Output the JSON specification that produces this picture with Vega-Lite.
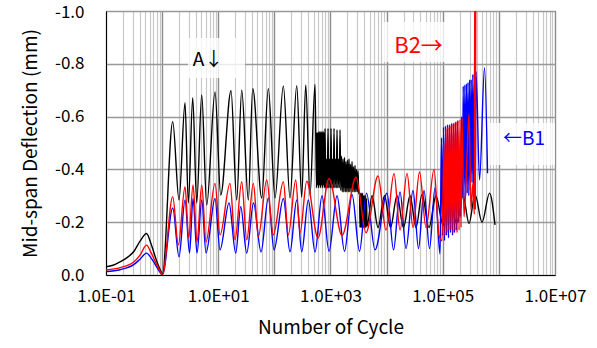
{
  "$schema": "https://vega.github.io/schema/vega-lite/v6.json",
  "width": 449,
  "height": 264,
  "autosize": {"type": "none"},
  "padding": {"left": 106, "top": 11, "right": 42, "bottom": 73},
  "background": "white",
  "config": {
    "view": {"stroke": "black", "strokeWidth": 1},
    "axis": {"domainColor": "black", "labelColor": "black", "titleColor": "black", "labelFont": "Noto Sans CJK JP", "titleFont": "Noto Sans CJK JP", "titleFontWeight": "normal"}
  },
  "datasets": {
    "lines": [
      {"s":"A","x":0.1,"y":-0.031},{"s":"A","x":0.1334,"y":-0.037},{"s":"A","x":0.1778,"y":-0.05},{"s":"A","x":0.2369,"y":-0.066},{"s":"A","x":0.3157,"y":-0.09},{"s":"A","x":0.4039,"y":-0.128},{"s":"A","x":0.5274,"y":-0.157},{"s":"A","x":0.6342,"y":-0.118},{"s":"A","x":0.7786,"y":-0.06},{"s":"A","x":0.9175,"y":-0.022},{"s":"A","x":1.017,"y":-0.005},
      {"s":"A","x":1.545,"y":-0.581},{"s":"A","x":2.0,"y":-0.284},{"s":"A","x":2.559,"y":-0.653},{"s":"A","x":2.93,"y":-0.273},{"s":"A","x":3.51,"y":-0.672},{"s":"A","x":4.136,"y":-0.273},{"s":"A","x":5.077,"y":-0.682},{"s":"A","x":6.232,"y":-0.265},{"s":"A","x":8.761,"y":-0.693},{"s":"A","x":11.07,"y":-0.303},{"s":"A","x":16.89,"y":-0.698},{"s":"A","x":21.34,"y":-0.284},{"s":"A","x":26.2,"y":-0.7},{"s":"A","x":34.36,"y":-0.284},{"s":"A","x":41.15,"y":-0.706},{"s":"A","x":59.52,"y":-0.292},{"s":"A","x":78.03,"y":-0.706},{"s":"A","x":102.7,"y":-0.292},{"s":"A","x":144.4,"y":-0.716},{"s":"A","x":190.0,"y":-0.292},{"s":"A","x":250.2,"y":-0.717},{"s":"A","x":307.1,"y":-0.295},{"s":"A","x":362.0,"y":-0.72},{"s":"A","x":431.7,"y":-0.303},{"s":"A","x":530.2,"y":-0.723},
      {"s":"A","x":563.6,"y":-0.33},{"s":"A","x":575.3,"y":-0.54},{"s":"A","x":587.2,"y":-0.34},{"s":"A","x":599.4,"y":-0.54},{"s":"A","x":611.8,"y":-0.33},{"s":"A","x":624.5,"y":-0.545},{"s":"A","x":637.4,"y":-0.34},{"s":"A","x":650.6,"y":-0.54},{"s":"A","x":664.1,"y":-0.33},{"s":"A","x":677.9,"y":-0.545},{"s":"A","x":691.9,"y":-0.34},{"s":"A","x":706.3,"y":-0.54},{"s":"A","x":720.9,"y":-0.33},{"s":"A","x":735.9,"y":-0.545},{"s":"A","x":751.1,"y":-0.34},{"s":"A","x":766.7,"y":-0.54},{"s":"A","x":782.6,"y":-0.33},
      {"s":"A","x":798.9,"y":-0.555},{"s":"A","x":823.9,"y":-0.33},{"s":"A","x":849.7,"y":-0.44},{"s":"A","x":876.3,"y":-0.33},{"s":"A","x":903.5,"y":-0.555},{"s":"A","x":931.8,"y":-0.33},{"s":"A","x":961.0,"y":-0.44},{"s":"A","x":991.0,"y":-0.33},{"s":"A","x":1022,"y":-0.555},{"s":"A","x":1054,"y":-0.33},{"s":"A","x":1087,"y":-0.44},{"s":"A","x":1121,"y":-0.33},{"s":"A","x":1156,"y":-0.555},{"s":"A","x":1192,"y":-0.33},{"s":"A","x":1229,"y":-0.44},{"s":"A","x":1268,"y":-0.33},{"s":"A","x":1307,"y":-0.55},{"s":"A","x":1348,"y":-0.33},{"s":"A","x":1390,"y":-0.44},{"s":"A","x":1434,"y":-0.33},{"s":"A","x":1478,"y":-0.55},{"s":"A","x":1525,"y":-0.32},
      {"s":"A","x":1572,"y":-0.45},{"s":"A","x":1621,"y":-0.315},{"s":"A","x":1672,"y":-0.44},{"s":"A","x":1724,"y":-0.315},{"s":"A","x":1778,"y":-0.445},{"s":"A","x":1834,"y":-0.315},{"s":"A","x":1891,"y":-0.43},{"s":"A","x":1950,"y":-0.315},{"s":"A","x":2011,"y":-0.435},{"s":"A","x":2074,"y":-0.315},{"s":"A","x":2139,"y":-0.44},{"s":"A","x":2205,"y":-0.315},{"s":"A","x":2274,"y":-0.42},{"s":"A","x":2345,"y":-0.315},{"s":"A","x":2419,"y":-0.43},{"s":"A","x":2494,"y":-0.315},{"s":"A","x":2572,"y":-0.41},{"s":"A","x":2652,"y":-0.315},{"s":"A","x":2735,"y":-0.415},{"s":"A","x":2821,"y":-0.315},{"s":"A","x":2909,"y":-0.4},{"s":"A","x":3000,"y":-0.315},{"s":"A","x":3094,"y":-0.395},{"s":"A","x":3190,"y":-0.31},
      {"s":"A","x":3290,"y":-0.305},{"s":"A","x":3358,"y":-0.18},{"s":"A","x":3428,"y":-0.31},{"s":"A","x":3499,"y":-0.18},{"s":"A","x":3572,"y":-0.31},{"s":"A","x":3646,"y":-0.18},{"s":"A","x":3721,"y":-0.31},{"s":"A","x":3798,"y":-0.18},{"s":"A","x":3877,"y":-0.3},{"s":"A","x":3958,"y":-0.18},{"s":"A","x":4040,"y":-0.3},{"s":"A","x":4124,"y":-0.18},{"s":"A","x":4209,"y":-0.3},{"s":"A","x":4297,"y":-0.18},{"s":"A","x":4386,"y":-0.29},{"s":"A","x":4477,"y":-0.185},
      {"s":"A","x":5494,"y":-0.3},{"s":"A","x":7027,"y":-0.18},{"s":"A","x":9176,"y":-0.3},{"s":"A","x":11736,"y":-0.18},{"s":"A","x":15322,"y":-0.3},{"s":"A","x":20000,"y":-0.18},{"s":"A","x":26117,"y":-0.3},{"s":"A","x":33405,"y":-0.18},{"s":"A","x":42726,"y":-0.305},{"s":"A","x":56940,"y":-0.18},{"s":"A","x":75900,"y":-0.3},{"s":"A","x":101130,"y":-0.19},{"s":"A","x":134770,"y":-0.295},{"s":"A","x":176000,"y":-0.195},{"s":"A","x":229770,"y":-0.3},{"s":"A","x":293900,"y":-0.195},{"s":"A","x":375900,"y":-0.305},{"s":"A","x":501000,"y":-0.2},{"s":"A","x":681600,"y":-0.31},{"s":"A","x":854000,"y":-0.19},

      {"s":"B2","x":0.1,"y":-0.019},{"s":"B2","x":0.1778,"y":-0.028},{"s":"B2","x":0.3157,"y":-0.05},{"s":"B2","x":0.4039,"y":-0.075},{"s":"B2","x":0.5274,"y":-0.113},{"s":"B2","x":0.6342,"y":-0.085},{"s":"B2","x":0.7786,"y":-0.045},{"s":"B2","x":0.9175,"y":-0.015},{"s":"B2","x":1.017,"y":-0.002},
      {"s":"B2","x":1.545,"y":-0.297},{"s":"B2","x":1.944,"y":-0.114},{"s":"B2","x":2.559,"y":-0.334},{"s":"B2","x":2.978,"y":-0.14},{"s":"B2","x":3.553,"y":-0.341},{"s":"B2","x":4.186,"y":-0.125},{"s":"B2","x":5.077,"y":-0.341},{"s":"B2","x":6.056,"y":-0.125},{"s":"B2","x":8.761,"y":-0.347},{"s":"B2","x":10.75,"y":-0.152},{"s":"B2","x":16.21,"y":-0.347},{"s":"B2","x":19.9,"y":-0.133},{"s":"B2","x":26.2,"y":-0.353},{"s":"B2","x":32.17,"y":-0.133},{"s":"B2","x":42.17,"y":-0.347},{"s":"B2","x":51.76,"y":-0.145},{"s":"B2","x":73.06,"y":-0.36},{"s":"B2","x":95.79,"y":-0.152},{"s":"B2","x":144.4,"y":-0.353},{"s":"B2","x":177.3,"y":-0.152},{"s":"B2","x":240.1,"y":-0.36},{"s":"B2","x":286.4,"y":-0.159},{"s":"B2","x":377.0,"y":-0.355},{"s":"B2","x":599.3,"y":-0.14},{"s":"B2","x":941.3,"y":-0.365},{"s":"B2","x":1604,"y":-0.15},{"s":"B2","x":2850,"y":-0.37},{"s":"B2","x":4295,"y":-0.16},{"s":"B2","x":7027,"y":-0.375},{"s":"B2","x":9757,"y":-0.17},{"s":"B2","x":13549,"y":-0.385},{"s":"B2","x":17331,"y":-0.17},{"s":"B2","x":23094,"y":-0.385},{"s":"B2","x":29540,"y":-0.18},{"s":"B2","x":38566,"y":-0.39},{"s":"B2","x":50350,"y":-0.18},{"s":"B2","x":69920,"y":-0.4},{"s":"B2","x":85840,"y":-0.15},
      {"s":"B2","x":97095,"y":-0.13},{"s":"B2","x":105370,"y":-0.5},{"s":"B2","x":109780,"y":-0.15},{"s":"B2","x":114380,"y":-0.555},{"s":"B2","x":119180,"y":-0.16},{"s":"B2","x":124170,"y":-0.56},{"s":"B2","x":129380,"y":-0.17},{"s":"B2","x":134770,"y":-0.565},{"s":"B2","x":140420,"y":-0.17},{"s":"B2","x":146300,"y":-0.57},{"s":"B2","x":152430,"y":-0.16},{"s":"B2","x":158820,"y":-0.575},{"s":"B2","x":165480,"y":-0.17},{"s":"B2","x":172410,"y":-0.58},{"s":"B2","x":179640,"y":-0.16},{"s":"B2","x":187170,"y":-0.585},{"s":"B2","x":195010,"y":-0.17},{"s":"B2","x":203180,"y":-0.59},{"s":"B2","x":211700,"y":-0.18},{"s":"B2","x":220570,"y":-0.595},
      {"s":"B2","x":239380,"y":-0.22},{"s":"B2","x":270770,"y":-0.45},{"s":"B2","x":293900,"y":-0.61},{"s":"B2","x":319000,"y":-0.25},{"s":"B2","x":346350,"y":-0.35},{"s":"B2","x":365280,"y":-0.23},{"s":"B2","x":372800,"y":-1.2},{"s":"B2","x":380500,"y":-0.25},{"s":"B2","x":388400,"y":-1.2},

      {"s":"B1","x":0.1,"y":-0.013},{"s":"B1","x":0.1778,"y":-0.02},{"s":"B1","x":0.3157,"y":-0.04},{"s":"B1","x":0.4039,"y":-0.06},{"s":"B1","x":0.5274,"y":-0.083},{"s":"B1","x":0.6342,"y":-0.065},{"s":"B1","x":0.7786,"y":-0.035},{"s":"B1","x":0.9175,"y":-0.01},{"s":"B1","x":1.017,"y":-0.002},
      {"s":"B1","x":1.545,"y":-0.254},{"s":"B1","x":2.0,"y":-0.069},{"s":"B1","x":2.559,"y":-0.284},{"s":"B1","x":3.078,"y":-0.083},{"s":"B1","x":3.553,"y":-0.29},{"s":"B1","x":4.186,"y":-0.083},{"s":"B1","x":5.077,"y":-0.284},{"s":"B1","x":6.056,"y":-0.084},{"s":"B1","x":8.761,"y":-0.29},{"s":"B1","x":10.75,"y":-0.095},{"s":"B1","x":15.56,"y":-0.273},{"s":"B1","x":20.48,"y":-0.083},{"s":"B1","x":25.15,"y":-0.259},{"s":"B1","x":32.17,"y":-0.083},{"s":"B1","x":42.51,"y":-0.273},{"s":"B1","x":57.82,"y":-0.088},{"s":"B1","x":78.03,"y":-0.292},{"s":"B1","x":98.58,"y":-0.095},{"s":"B1","x":144.4,"y":-0.29},{"s":"B1","x":190.0,"y":-0.088},{"s":"B1","x":250.2,"y":-0.284},{"s":"B1","x":307.1,"y":-0.088},{"s":"B1","x":402.6,"y":-0.284},{"s":"B1","x":530.2,"y":-0.087},{"s":"B1","x":706.3,"y":-0.3},{"s":"B1","x":941.3,"y":-0.09},{"s":"B1","x":1307,"y":-0.3},{"s":"B1","x":1778,"y":-0.09},{"s":"B1","x":2419,"y":-0.305},{"s":"B1","x":3290,"y":-0.09},{"s":"B1","x":4386,"y":-0.31},{"s":"B1","x":6213,"y":-0.095},{"s":"B1","x":10165,"y":-0.31},{"s":"B1","x":13274,"y":-0.095},{"s":"B1","x":17331,"y":-0.315},{"s":"B1","x":22166,"y":-0.1},{"s":"B1","x":29540,"y":-0.32},{"s":"B1","x":37016,"y":-0.1},{"s":"B1","x":46390,"y":-0.32},{"s":"B1","x":58130,"y":-0.1},{"s":"B1","x":72840,"y":-0.33},{"s":"B1","x":89430,"y":-0.08},
      {"s":"B1","x":95120,"y":-0.52},{"s":"B1","x":99105,"y":-0.15},{"s":"B1","x":103260,"y":-0.56},{"s":"B1","x":107580,"y":-0.13},{"s":"B1","x":112090,"y":-0.565},{"s":"B1","x":116790,"y":-0.15},{"s":"B1","x":121680,"y":-0.57},{"s":"B1","x":126780,"y":-0.14},{"s":"B1","x":132090,"y":-0.57},{"s":"B1","x":137630,"y":-0.16},{"s":"B1","x":143390,"y":-0.575},{"s":"B1","x":149400,"y":-0.15},{"s":"B1","x":155660,"y":-0.575},{"s":"B1","x":162180,"y":-0.16},{"s":"B1","x":168980,"y":-0.58},{"s":"B1","x":176060,"y":-0.17},{"s":"B1","x":183440,"y":-0.585},{"s":"B1","x":191120,"y":-0.2},{"s":"B1","x":199000,"y":-0.45},{"s":"B1","x":207330,"y":-0.22},{"s":"B1","x":216020,"y":-0.6},{"s":"B1","x":225060,"y":-0.3},{"s":"B1","x":231640,"y":-0.715},{"s":"B1","x":239380,"y":-0.29},{"s":"B1","x":247370,"y":-0.72},{"s":"B1","x":255630,"y":-0.3},{"s":"B1","x":264160,"y":-0.725},{"s":"B1","x":272980,"y":-0.31},{"s":"B1","x":282090,"y":-0.73},{"s":"B1","x":291510,"y":-0.3},{"s":"B1","x":301240,"y":-0.74},{"s":"B1","x":311250,"y":-0.32},{"s":"B1","x":321640,"y":-0.74},{"s":"B1","x":332380,"y":-0.35},{"s":"B1","x":343480,"y":-0.76},{"s":"B1","x":354940,"y":-0.3},{"s":"B1","x":366790,"y":-0.765},{"s":"B1","x":379030,"y":-0.32},{"s":"B1","x":391680,"y":-0.77},{"s":"B1","x":452200,"y":-0.36},{"s":"B1","x":555100,"y":-0.785},{"s":"B1","x":627900,"y":-0.385}
    ],
    "notes": [
      {"label":"A↓","x":6.57,"y":-0.814,"bx1":2.894,"bx2":30.0,"by1":-0.898,"by2":-0.746},
      {"label":"B2→","x":37016,"y":-0.867,"bx1":8627,"bx2":187200,"by1":-0.958,"by2":-0.807},
      {"label":"←B1","x":2805000,"y":-0.515,"bx1":695500,"bx2":20950000,"by1":-0.576,"by2":-0.417}
    ]
  },
  "layer": [
    {
      "data": {"name": "notes"},
      "mark": {"type": "rect", "fill": "white", "opacity": 0.8, "clip": true},
      "encoding": {
        "x": {"field": "bx1", "type": "quantitative",
          "scale": {"type": "log", "domain": [0.1, 10000000], "nice": false},
          "axis": {
            "values": [0.1,0.2,0.3,0.4,0.5,0.6,0.7,0.8,0.9,1,2,3,4,5,6,7,8,9,10,20,30,40,50,60,70,80,90,100,200,300,400,500,600,700,800,900,1000,2000,3000,4000,5000,6000,7000,8000,9000,10000,20000,30000,40000,50000,60000,70000,80000,90000,100000,200000,300000,400000,500000,600000,700000,800000,900000,1000000,2000000,3000000,4000000,5000000,6000000,7000000,8000000,9000000,10000000],
            "labelExpr": "abs(log(datum.value)/LN10 - round(log(datum.value)/LN10)) < 0.001 && abs(round(log(datum.value)/LN10)) % 2 == 1 ? '1.0E' + (datum.value < 1 ? '-' : '+') + '0' + abs(round(log(datum.value)/LN10)) : ''",
            "grid": true,
            "gridColor": {"condition": {"test": "abs(log(datum.value)/LN10 - round(log(datum.value)/LN10)) < 0.001", "value": "#8c8c8c"}, "value": "#c8c8c8"},
            "gridWidth": {"condition": {"test": "abs(log(datum.value)/LN10 - round(log(datum.value)/LN10)) < 0.001", "value": 1.4}, "value": 1.2},
            "ticks": false, "tickSize": 0,
            "labelFontSize": 17, "labelPadding": 13, "labelOverlap": false, "labelFlush": false,
            "title": "Number of Cycle", "titleFontSize": 19, "titlePadding": 14
          }
        },
        "x2": {"field": "bx2"},
        "y": {"field": "by1", "type": "quantitative",
          "scale": {"domain": [0, -1], "nice": false, "zero": false},
          "axis": {
            "values": [0, -0.2, -0.4, -0.6, -0.8, -1],
            "labelExpr": "datum.value == 0 ? '0.0' : '-' + format(-datum.value, '.1f')",
            "labelOffset": {"condition": {"test": "datum.value == -1", "value": 1}, "value": 0},
            "grid": true, "gridColor": "#999999", "gridWidth": 1.3,
            "ticks": false, "tickSize": 0,
            "labelFontSize": 17, "labelPadding": 22,
            "title": "Mid-span Deflection (mm)", "titleFontSize": 19, "titlePadding": 14
          }
        },
        "y2": {"field": "by2"}
      }
    },
    {
      "data": {"name": "lines"},
      "transform": [{"filter": "datum.s == 'A'"}],
      "mark": {"type": "line", "color": "#000000", "strokeWidth": 1.4, "interpolate": "monotone", "clip": true},
      "encoding": {
        "x": {"field": "x", "type": "quantitative"},
        "y": {"field": "y", "type": "quantitative"}
      }
    },
    {
      "data": {"name": "lines"},
      "transform": [{"filter": "datum.s == 'B1'"}],
      "mark": {"type": "line", "color": "#0000ff", "strokeWidth": 1.4, "interpolate": "monotone", "clip": true},
      "encoding": {
        "x": {"field": "x", "type": "quantitative"},
        "y": {"field": "y", "type": "quantitative"}
      }
    },
    {
      "data": {"name": "lines"},
      "transform": [{"filter": "datum.s == 'B2'"}],
      "mark": {"type": "line", "color": "#ff0000", "strokeWidth": 1.4, "interpolate": "monotone", "clip": true},
      "encoding": {
        "x": {"field": "x", "type": "quantitative"},
        "y": {"field": "y", "type": "quantitative"}
      }
    },
    {
      "data": {"name": "notes"},
      "transform": [{"filter": "datum.label == 'A↓'"}],
      "mark": {"type": "text", "color": "#000000", "font": "Noto Sans CJK JP", "fontSize": 19, "align": "center", "baseline": "middle"},
      "encoding": {
        "x": {"field": "x", "type": "quantitative"},
        "y": {"field": "y", "type": "quantitative"},
        "text": {"field": "label"}
      }
    },
    {
      "data": {"name": "notes"},
      "transform": [{"filter": "datum.label == 'B2→'"}],
      "mark": {"type": "text", "color": "#ff0000", "font": "Noto Sans CJK JP", "fontSize": 22, "align": "center", "baseline": "middle"},
      "encoding": {
        "x": {"field": "x", "type": "quantitative"},
        "y": {"field": "y", "type": "quantitative"},
        "text": {"field": "label"}
      }
    },
    {
      "data": {"name": "notes"},
      "transform": [{"filter": "datum.label == '←B1'"}],
      "mark": {"type": "text", "color": "#0000ff", "font": "Noto Sans CJK JP", "fontSize": 19, "align": "center", "baseline": "middle"},
      "encoding": {
        "x": {"field": "x", "type": "quantitative"},
        "y": {"field": "y", "type": "quantitative"},
        "text": {"field": "label"}
      }
    }
  ]
}
